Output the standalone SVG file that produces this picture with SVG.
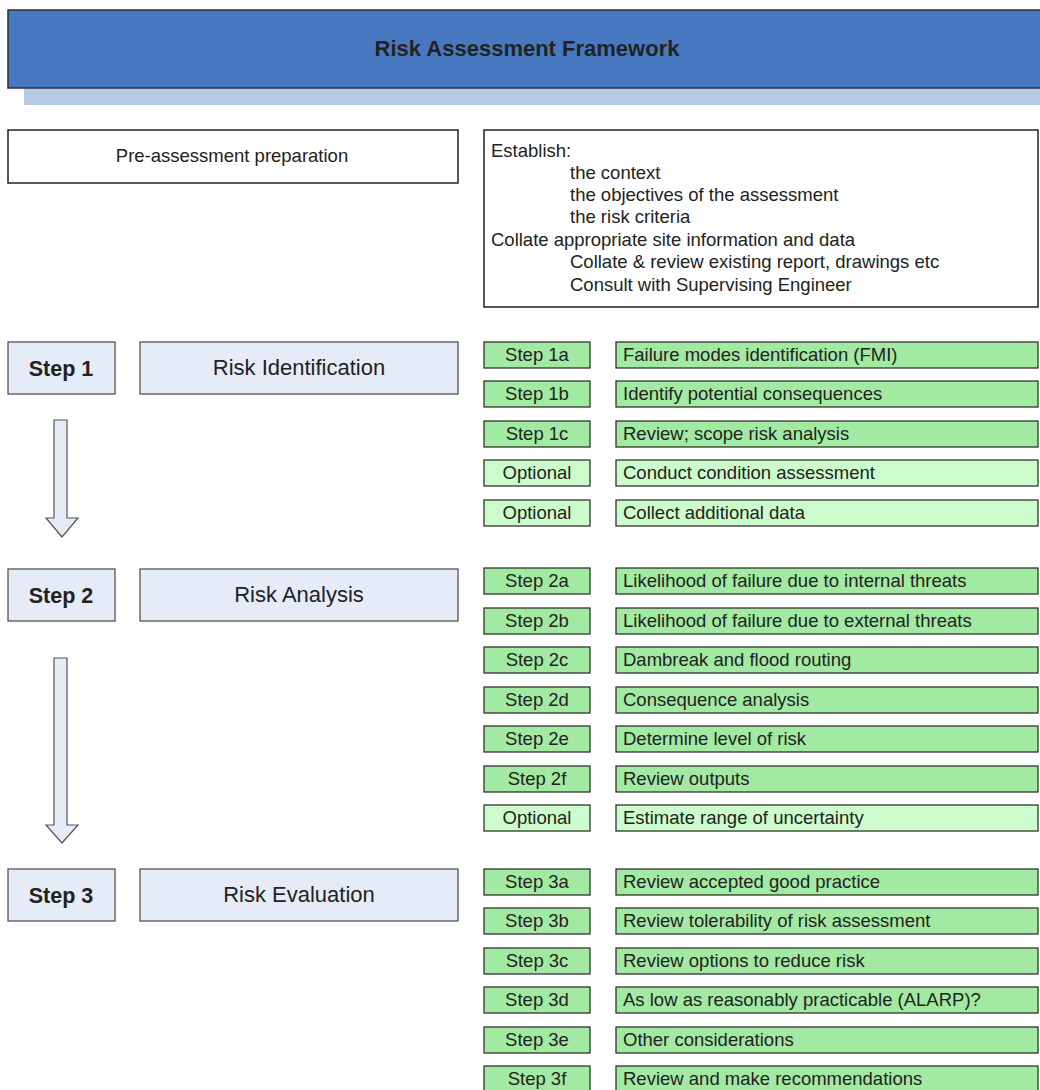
<svg xmlns="http://www.w3.org/2000/svg" width="1040" height="1090" viewBox="0 0 1040 1090">
<style>
text{font-family:"Liberation Sans",Arial,sans-serif;fill:#222}
.t16{font-size:18.5px}
.t20{font-size:22px}
.s{font-size:21.5px}
.b{font-weight:bold}
.mid{text-anchor:middle}
.stepbox{fill:#e6ecf7;stroke:#555;stroke-width:1.3}
.g1{fill:#a2eaa2;stroke:#333;stroke-width:1.3}
.g2{fill:#ccfccc;stroke:#333;stroke-width:1.3}
.wb{fill:#fff;stroke:#222;stroke-width:1.5}
.arrow{fill:#e6ecf7;stroke:#555;stroke-width:1.2}
</style>
<rect width="1040" height="1090" fill="#fff"/>
<g id="title">
<rect x="24" y="88" width="1020" height="17" fill="#b8c9e3"/>
<rect x="8" y="10" width="1036" height="78" fill="#4879c0" stroke="#2a2f3a" stroke-width="1.5"/>
<text x="527" y="56" class="t20 b mid" fill="#111">Risk Assessment Framework</text>
</g>
<g id="pre">
<rect x="8" y="130" width="450" height="53" class="wb"/>
<text x="232" y="162" class="t16 mid">Pre-assessment preparation</text>
</g>
<g id="establish">
<rect x="484" y="130" width="554" height="177" class="wb"/>
<text class="t16"><tspan x="491" y="157">Establish:</tspan><tspan x="570" y="179">the context</tspan><tspan x="570" y="201">the objectives of the assessment</tspan><tspan x="570" y="223">the risk criteria</tspan><tspan x="491" y="246">Collate appropriate site information and data</tspan><tspan x="570" y="268">Collate &amp; review existing report, drawings etc</tspan><tspan x="570" y="291">Consult with Supervising Engineer</tspan></text>
</g>
<g id="step1">
<rect x="8" y="342" width="107" height="52" class="stepbox"/>
<text x="61" y="376" class="s b mid">Step 1</text>
</g>
<g id="risk-identification">
<rect x="140" y="342" width="318" height="52" class="stepbox"/>
<text x="299" y="375" class="t20 mid">Risk Identification</text>
</g>
<g id="step2">
<rect x="8" y="569" width="107" height="52" class="stepbox"/>
<text x="61" y="603" class="s b mid">Step 2</text>
</g>
<g id="risk-analysis">
<rect x="140" y="569" width="318" height="52" class="stepbox"/>
<text x="299" y="602" class="t20 mid">Risk Analysis</text>
</g>
<g id="step3">
<rect x="8" y="869" width="107" height="52" class="stepbox"/>
<text x="61" y="903" class="s b mid">Step 3</text>
</g>
<g id="risk-evaluation">
<rect x="140" y="869" width="318" height="52" class="stepbox"/>
<text x="299" y="902" class="t20 mid">Risk Evaluation</text>
</g>
<g id="connectors">
<path d="M54,420 H67 V518 H78 L62,537 L46,518 H54 Z" class="arrow"/>
<path d="M54,658 H67 V825 H78 L62,843 L46,825 H54 Z" class="arrow"/>
</g>
<g id="s1a"><rect x="484" y="342" width="106" height="26" class="g1"/><text x="537" y="361" class="t16 mid">Step 1a</text><rect x="616" y="342" width="422" height="26" class="g1"/><text x="623" y="361" class="t16">Failure modes identification (FMI)</text></g>
<g id="s1b"><rect x="484" y="381" width="106" height="26" class="g1"/><text x="537" y="400" class="t16 mid">Step 1b</text><rect x="616" y="381" width="422" height="26" class="g1"/><text x="623" y="400" class="t16">Identify potential consequences</text></g>
<g id="s1c"><rect x="484" y="421" width="106" height="26" class="g1"/><text x="537" y="440" class="t16 mid">Step 1c</text><rect x="616" y="421" width="422" height="26" class="g1"/><text x="623" y="440" class="t16">Review; scope risk analysis</text></g>
<g id="s1o1"><rect x="484" y="460" width="106" height="26" class="g2"/><text x="537" y="479" class="t16 mid">Optional</text><rect x="616" y="460" width="422" height="26" class="g2"/><text x="623" y="479" class="t16">Conduct condition assessment</text></g>
<g id="s1o2"><rect x="484" y="500" width="106" height="26" class="g2"/><text x="537" y="519" class="t16 mid">Optional</text><rect x="616" y="500" width="422" height="26" class="g2"/><text x="623" y="519" class="t16">Collect additional data</text></g>
<g id="s2a"><rect x="484" y="568" width="106" height="26" class="g1"/><text x="537" y="587" class="t16 mid">Step 2a</text><rect x="616" y="568" width="422" height="26" class="g1"/><text x="623" y="587" class="t16">Likelihood of failure due to internal threats</text></g>
<g id="s2b"><rect x="484" y="608" width="106" height="26" class="g1"/><text x="537" y="627" class="t16 mid">Step 2b</text><rect x="616" y="608" width="422" height="26" class="g1"/><text x="623" y="627" class="t16">Likelihood of failure due to external threats</text></g>
<g id="s2c"><rect x="484" y="647" width="106" height="26" class="g1"/><text x="537" y="666" class="t16 mid">Step 2c</text><rect x="616" y="647" width="422" height="26" class="g1"/><text x="623" y="666" class="t16">Dambreak and flood routing</text></g>
<g id="s2d"><rect x="484" y="687" width="106" height="26" class="g1"/><text x="537" y="706" class="t16 mid">Step 2d</text><rect x="616" y="687" width="422" height="26" class="g1"/><text x="623" y="706" class="t16">Consequence analysis</text></g>
<g id="s2e"><rect x="484" y="726" width="106" height="26" class="g1"/><text x="537" y="745" class="t16 mid">Step 2e</text><rect x="616" y="726" width="422" height="26" class="g1"/><text x="623" y="745" class="t16">Determine level of risk</text></g>
<g id="s2f"><rect x="484" y="766" width="106" height="26" class="g1"/><text x="537" y="785" class="t16 mid">Step 2f</text><rect x="616" y="766" width="422" height="26" class="g1"/><text x="623" y="785" class="t16">Review outputs</text></g>
<g id="s2o"><rect x="484" y="805" width="106" height="26" class="g2"/><text x="537" y="824" class="t16 mid">Optional</text><rect x="616" y="805" width="422" height="26" class="g2"/><text x="623" y="824" class="t16">Estimate range of uncertainty</text></g>
<g id="s3a"><rect x="484" y="869" width="106" height="26" class="g1"/><text x="537" y="888" class="t16 mid">Step 3a</text><rect x="616" y="869" width="422" height="26" class="g1"/><text x="623" y="888" class="t16">Review accepted good practice</text></g>
<g id="s3b"><rect x="484" y="908" width="106" height="26" class="g1"/><text x="537" y="927" class="t16 mid">Step 3b</text><rect x="616" y="908" width="422" height="26" class="g1"/><text x="623" y="927" class="t16">Review tolerability of risk assessment</text></g>
<g id="s3c"><rect x="484" y="948" width="106" height="26" class="g1"/><text x="537" y="967" class="t16 mid">Step 3c</text><rect x="616" y="948" width="422" height="26" class="g1"/><text x="623" y="967" class="t16">Review options to reduce risk</text></g>
<g id="s3d"><rect x="484" y="987" width="106" height="26" class="g1"/><text x="537" y="1006" class="t16 mid">Step 3d</text><rect x="616" y="987" width="422" height="26" class="g1"/><text x="623" y="1006" class="t16">As low as reasonably practicable (ALARP)?</text></g>
<g id="s3e"><rect x="484" y="1027" width="106" height="26" class="g1"/><text x="537" y="1046" class="t16 mid">Step 3e</text><rect x="616" y="1027" width="422" height="26" class="g1"/><text x="623" y="1046" class="t16">Other considerations</text></g>
<g id="s3f"><rect x="484" y="1066" width="106" height="26" class="g1"/><text x="537" y="1085" class="t16 mid">Step 3f</text><rect x="616" y="1066" width="422" height="26" class="g1"/><text x="623" y="1085" class="t16">Review and make recommendations</text></g>
</svg>
